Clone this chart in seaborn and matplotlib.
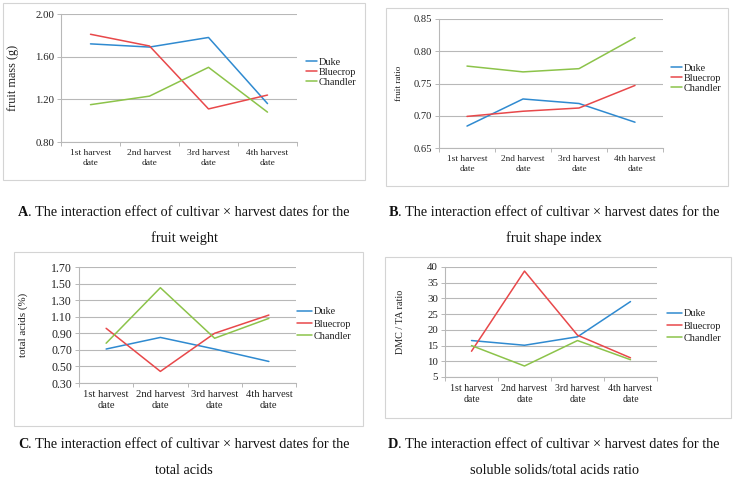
import matplotlib
matplotlib.use("Agg")
import matplotlib.pyplot as plt
import seaborn as sns
import pandas as pd
import numpy as np
from matplotlib.patches import Rectangle
from matplotlib.ticker import FormatStrFormatter

sns.set_theme(style="white")
plt.rcParams['font.family'] = ['Liberation Serif', 'DejaVu Serif']

# ---------------- data ----------------
dates = ["1st harvest\ndate", "2nd harvest\ndate", "3rd harvest\ndate", "4th harvest\ndate"]
cultivars = ["Duke", "Bluecrop", "Chandler"]

mass_duke = [1.72, 1.69, 1.78, 1.16]
mass_bluecrop = [1.81, 1.70, 1.11, 1.24]
mass_chandler = [1.15, 1.23, 1.50, 1.08]

ratio_duke = [0.684, 0.726, 0.719, 0.690]
ratio_bluecrop = [0.699, 0.707, 0.712, 0.747]
ratio_chandler = [0.777, 0.768, 0.773, 0.821]

acids_duke = [0.71, 0.85, 0.71, 0.56]
acids_bluecrop = [0.96, 0.44, 0.90, 1.12]
acids_chandler = [0.78, 1.45, 0.84, 1.08]

dmcta_duke = [16.6, 15.1, 17.8, 29.0]
dmcta_bluecrop = [13.2, 38.7, 18.3, 11.1]
dmcta_chandler = [15.0, 8.5, 16.6, 10.5]

ylabels = ["fruit mass (g)", "fruit ratio", "total acids (%)", "DMC / TA ratio"]
captions = [
    ("A", ". The interaction effect of cultivar × harvest dates for the", "fruit weight"),
    ("B", ". The interaction effect of cultivar × harvest dates for the", "fruit shape index"),
    ("C", ". The interaction effect of cultivar × harvest dates for the", "total acids"),
    ("D", ". The interaction effect of cultivar × harvest dates for the", "soluble solids/total acids ratio"),
]

palette = {"Duke": "#2f8ad0", "Bluecrop": "#e8484a", "Chandler": "#8cc34a"}

def long_df(d, b, c):
    rows = []
    for name, vals in zip(cultivars, [d, b, c]):
        for dt, v in zip(dates, vals):
            rows.append({"date": dt, "value": v, "cultivar": name})
    return pd.DataFrame(rows)

panels = [
    long_df(mass_duke, mass_bluecrop, mass_chandler),
    long_df(ratio_duke, ratio_bluecrop, ratio_chandler),
    long_df(acids_duke, acids_bluecrop, acids_chandler),
    long_df(dmcta_duke, dmcta_bluecrop, dmcta_chandler),
]

W, H = 733, 483
fig = plt.figure(figsize=(W / 100, H / 100), dpi=100)

def fx(px):
    return px / W

def fy(py):
    return 1 - py / H

# plot areas in pixels: (left, top, right, bottom)
areas = [(61, 14, 297, 142), (439, 19, 663, 148), (79, 267, 296, 383), (445, 267, 657, 377)]
ylims = [(0.80, 2.00), (0.65, 0.85), (0.30, 1.70), (5, 40)]
ysteps = [0.40, 0.05, 0.20, 5]
yfmt = ["%.2f", "%.2f", "%.2f", "%d"]
frames = [(3, 3, 365, 180), (386, 8, 728, 186), (14, 252, 363, 426), (385, 257, 731, 418)]
xtick_fs = [6.8, 6.7, 7.6, 7.1]
ytick_fs = [7.8, 7.6, 8.6, 7.8]
ylabel_fs = [8.8, 6.6, 7.9, 7.3]
ylabel_x = [19, 403, 28, 405]
legend_pos = [(306, 72), (671, 78), (297, 324), (667, 326)]
legend_spacing = [0.08, 0.08, 0.3, 0.3]
legend_hl = [1.1, 1.1, 1.5, 1.5]
cap_pos = [(184, 212, 238), (554, 212, 238), (184, 445, 471), (554, 445, 471)]

grid_c = "#b8b8b8"
text_c = "#222222"

for i, df in enumerate(panels):
    l, t, r, b = areas[i]
    ax = fig.add_axes([fx(l), fy(b), fx(r) - fx(l), fy(t) - fy(b)])
    sns.lineplot(data=df, x="date", y="value", hue="cultivar", hue_order=cultivars,
                 palette=palette, ax=ax, sort=False, linewidth=1.1, legend=True)
    ax.set_xlim(-0.5, 3.5)
    lo, hi = ylims[i]
    ax.set_ylim(lo, hi)
    yt = np.arange(lo, hi + ysteps[i] / 2, ysteps[i])
    ax.set_yticks(yt)
    ax.yaxis.set_major_formatter(FormatStrFormatter(yfmt[i]))
    ax.set_xticks(range(len(dates)))
    ax.set_xticklabels(dates, linespacing=1.3)
    ax.set_xticks(np.arange(-0.5, len(dates), 1.0), minor=True)
    ax.tick_params(axis="x", which="major", length=0, pad=5, labelsize=xtick_fs[i], colors=text_c)
    ax.tick_params(axis="x", which="minor", length=3, width=0.7, color=grid_c, bottom=True)
    ax.tick_params(axis="y", length=3, width=0.7, color=grid_c, labelsize=ytick_fs[i],
                   labelcolor=text_c, pad=2, left=True)
    ax.grid(axis="y", color=grid_c, linewidth=0.8)
    ax.grid(axis="x", visible=False)
    for s in ["top", "right"]:
        ax.spines[s].set_visible(False)
    for s in ["left", "bottom"]:
        ax.spines[s].set_color(grid_c)
        ax.spines[s].set_linewidth(0.8)
    ax.set_xlabel("")
    ax.set_ylabel(ylabels[i], fontsize=ylabel_fs[i], color=text_c)
    ax.yaxis.set_label_coords(fx(ylabel_x[i]), fy((t + b) / 2), transform=fig.transFigure)
    ax.set_facecolor("none")

    handles, labels = ax.get_legend_handles_labels()
    lx, ly = legend_pos[i]
    ax.legend(handles, labels, loc="center left", bbox_to_anchor=(fx(lx), fy(ly)),
              bbox_transform=fig.transFigure, frameon=False, fontsize=7.4,
              handlelength=legend_hl[i], handletextpad=0.15, labelspacing=legend_spacing[i],
              borderpad=0, borderaxespad=0, labelcolor=text_c)

    fl, ft, fr, fb = frames[i]
    fig.patches.append(Rectangle((fx(fl), fy(fb)), fx(fr) - fx(fl), fy(ft) - fy(fb),
                                 transform=fig.transFigure, fill=False,
                                 edgecolor="#d4d4d4", linewidth=0.8))

# captions
fig.canvas.draw()
renderer = fig.canvas.get_renderer()
cap_fs = 10.3
for (letter, rest, line2), (cx, y1, y2) in zip(captions, cap_pos):
    tb = fig.text(0, 0, letter, fontsize=cap_fs, fontweight="bold", color="#111111")
    tr = fig.text(0, 0, rest, fontsize=cap_fs, color="#111111")
    wb = tb.get_window_extent(renderer).width
    wr = tr.get_window_extent(renderer).width
    x0 = cx - (wb + wr) / 2
    tb.set_position((fx(x0), fy(y1)))
    tb.set_va("center")
    tr.set_position((fx(x0 + wb), fy(y1)))
    tr.set_va("center")
    fig.text(fx(cx), fy(y2), line2, fontsize=cap_fs, ha="center", va="center", color="#111111")

fig.savefig("out.png", dpi=100, facecolor="white")
